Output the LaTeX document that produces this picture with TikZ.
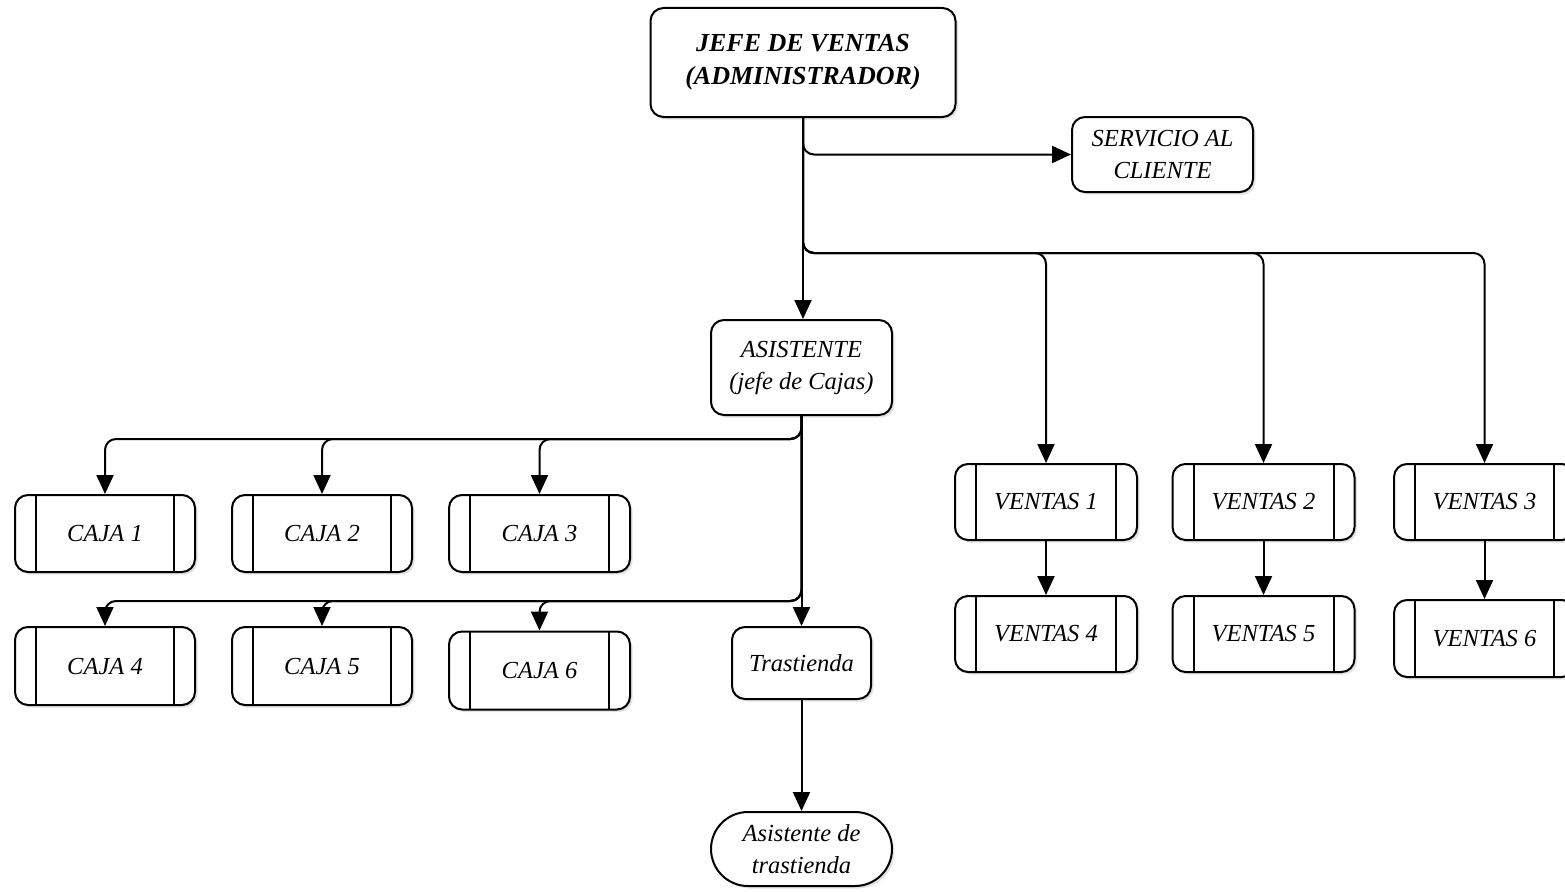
\documentclass[tikz,border=0pt]{standalone}
\usepackage{fontspec}
\setmainfont{Liberation Serif}
\usetikzlibrary{arrows.meta,shadows}

\tikzset{
  every node/.style={align=center, inner sep=0pt},
  boxline/.style={line width=2pt},
  basebox/.style={boxline, draw, fill=white, rounded corners=13pt,
    drop shadow={opacity=0.22, shadow xshift=2.5pt, shadow yshift=-2.5pt},
    font=\itshape\fontsize{24.5}{32}\selectfont},
  procbox/.style={basebox,
    path picture={
      \draw[boxline] ([xshift=21pt]path picture bounding box.north west) -- ([xshift=21pt]path picture bounding box.south west);
      \draw[boxline] ([xshift=-21pt]path picture bounding box.north east) -- ([xshift=-21pt]path picture bounding box.south east);
    }},
  conn/.style={boxline, rounded corners=11pt, -{Triangle[length=19pt,width=17pt]}},
}

\begin{document}
\begin{tikzpicture}[x=1pt,y=-1pt]
\useasboundingbox (0,0) rectangle (1565,891);

% head and staff
\node[basebox, minimum width=305pt, minimum height=109pt,
      font=\bfseries\itshape\fontsize{26}{33}\selectfont] (jefe) at (803,62.5)
      {JEFE DE VENTAS\\(ADMINISTRADOR)};
\node[basebox, minimum width=181pt, minimum height=75pt] (serv) at (1162.5,154.5)
      {SERVICIO AL\\CLIENTE};
\node[basebox, minimum width=181pt, minimum height=95pt] (asis) at (801.5,367.5)
      {ASISTENTE\\(jefe de Cajas)};

% cash desks
\node[procbox, minimum width=180pt, minimum height=77pt] (c1) at (105,533.5) {CAJA 1};
\node[procbox, minimum width=180pt, minimum height=77pt] (c2) at (322,533.5) {CAJA 2};
\node[procbox, minimum width=181pt, minimum height=77pt] (c3) at (539.5,533.5) {CAJA 3};
\node[procbox, minimum width=180pt, minimum height=78pt] (c4) at (105,666) {CAJA 4};
\node[procbox, minimum width=180pt, minimum height=78pt] (c5) at (322,666) {CAJA 5};
\node[procbox, minimum width=181pt, minimum height=78pt] (c6) at (539.5,670.5) {CAJA 6};

% back room
\node[basebox, minimum width=139pt, minimum height=72pt] (tras) at (801.5,663) {Trastienda};
\node[basebox, rounded corners=37pt, minimum width=181pt, minimum height=74pt] (atras) at (801.5,849)
      {Asistente de\\trastienda};

% sales
\node[procbox, minimum width=182pt, minimum height=76pt] (v1) at (1046,502) {VENTAS 1};
\node[procbox, minimum width=182pt, minimum height=76pt] (v2) at (1263.5,502) {VENTAS 2};
\node[procbox, minimum width=181pt, minimum height=76pt] (v3) at (1484.5,502) {VENTAS 3};
\node[procbox, minimum width=182pt, minimum height=76pt] (v4) at (1046,634) {VENTAS 4};
\node[procbox, minimum width=182pt, minimum height=76pt] (v5) at (1263.5,634) {VENTAS 5};
\node[procbox, minimum width=181pt, minimum height=77pt] (v6) at (1484.5,638.5) {VENTAS 6};

% connectors from the head
\draw[conn] (jefe.south) -- (jefe.south |- asis.north);
\draw[conn] (jefe.south) |- (serv.west);
\draw[conn] (jefe.south) -- ++(0,135) -| (v1.north);
\draw[conn] (jefe.south) -- ++(0,135) -| (v2.north);
\draw[conn] (jefe.south) -- ++(0,135) -| (v3.north);

% connectors from the assistant
\draw[conn] (asis.south) -- ++(0,23) -| (c1.north);
\draw[conn] (asis.south) -- ++(0,23) -| (c2.north);
\draw[conn] (asis.south) -- ++(0,23) -| (c3.north);
\draw[conn] (asis.south) -- ++(0,185) -| (c4.north);
\draw[conn] (asis.south) -- ++(0,185) -| (c5.north);
\draw[conn] (asis.south) -- ++(0,185) -| (c6.north);
\draw[conn] (asis.south) -- (tras.north);
\draw[conn] (tras.south) -- (atras.north);

% sales chains
\draw[conn] (v1.south) -- (v4.north);
\draw[conn] (v2.south) -- (v5.north);
\draw[conn] (v3.south) -- (v6.north);
\end{tikzpicture}
\end{document}
